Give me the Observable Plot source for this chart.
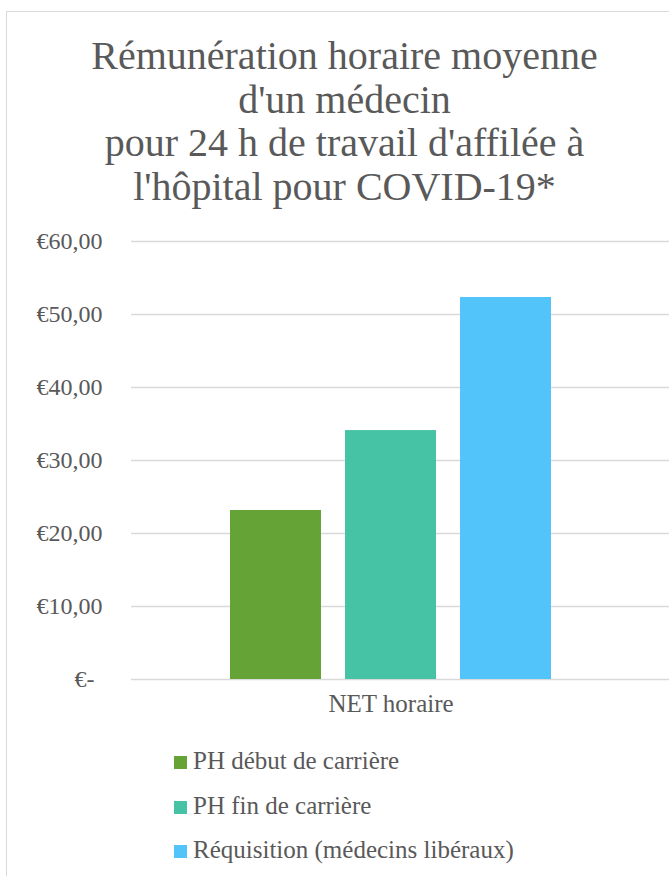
<!DOCTYPE html>
<html>
<head>
<meta charset="utf-8">
<script src="https://cdn.jsdelivr.net/npm/d3@7"></script>
<script src="https://cdn.jsdelivr.net/npm/@observablehq/plot@0.6"></script>
<style>
  html, body { margin: 0; padding: 0; width: 669px; height: 876px; overflow: hidden; background: #fff; }
  #frame { position: absolute; left: 6px; top: 11px; width: 700px; height: 900px;
           border-left: 1.5px solid #d9d9d9; border-top: 1.5px solid #d9d9d9; }
  #title { position: absolute; left: 6px; width: 677px; top: 34px; text-align: center;
           font-family: "Liberation Serif", serif; font-size: 40px; line-height: 43.5px; color: #595959; }
  #chart { position: absolute; left: 0; top: 220px; }
  #legend { position: absolute; left: 174px; top: 739px; font-family: "Liberation Serif", serif;
            font-size: 25px; line-height: 44.5px; color: #595959; white-space: nowrap; }
  .sw { display: inline-block; width: 13px; height: 13px; margin-right: 6px; vertical-align: baseline; }
</style>
</head>
<body>
<div id="frame"></div>
<div id="title"></div>
<div id="chart"></div>
<div id="legend"></div>
<script>
const titleLines = ["Rémunération horaire moyenne", "d'un médecin", "pour 24 h de travail d'affilée à", "l'hôpital pour COVID-19*"];
const category = "NET horaire";
const series = ["PH début de carrière", "PH fin de carrière", "Réquisition (médecins libéraux)"];
const values = [23.15, 34.1, 52.33];
const colors = ["#66A337", "#46C2A5", "#53C4F9"];
const yTicks = [0, 10, 20, 30, 40, 50, 60];

document.getElementById("title").innerHTML = titleLines.join("<br>");

const data = series.map((s, i) => ({series: s, value: values[i]}));
const fmt = d => d === 0 ? "€-\u2004" : "€" + d.toFixed(2).replace(".", ",");

const chart = Plot.plot({
  width: 669,
  height: 510,
  marginTop: 21,
  marginBottom: 51,
  marginLeft: 131,
  marginRight: 0,
  style: {fontFamily: "Liberation Serif, serif", fontSize: "24px", color: "#595959", background: "transparent", overflow: "visible"},
  x: {type: "band", domain: series, paddingInner: 0.2087, paddingOuter: 0.943, align: 0.456, axis: null},
  y: {domain: [0, 60], ticks: yTicks, tickFormat: fmt, tickSize: 0, tickPadding: 29, label: null},
  color: {domain: series, range: colors},
  marks: [
    Plot.ruleY(yTicks, {stroke: "#d9d9d9", strokeWidth: 1.5}),
    Plot.barY(data, {x: "series", y: "value", fill: "series"}),
    Plot.text([{s: series[1], t: category}], {x: "s", text: "t", frameAnchor: "bottom", dy: 32, fontSize: 25, fill: "#595959"})
  ]
});
document.getElementById("chart").appendChild(chart);

const legend = document.getElementById("legend");
series.forEach((s, i) => {
  const row = document.createElement("div");
  const sw = document.createElement("span");
  sw.className = "sw";
  sw.style.background = colors[i];
  row.appendChild(sw);
  row.appendChild(document.createTextNode(s));
  legend.appendChild(row);
});
</script>
</body>
</html>
